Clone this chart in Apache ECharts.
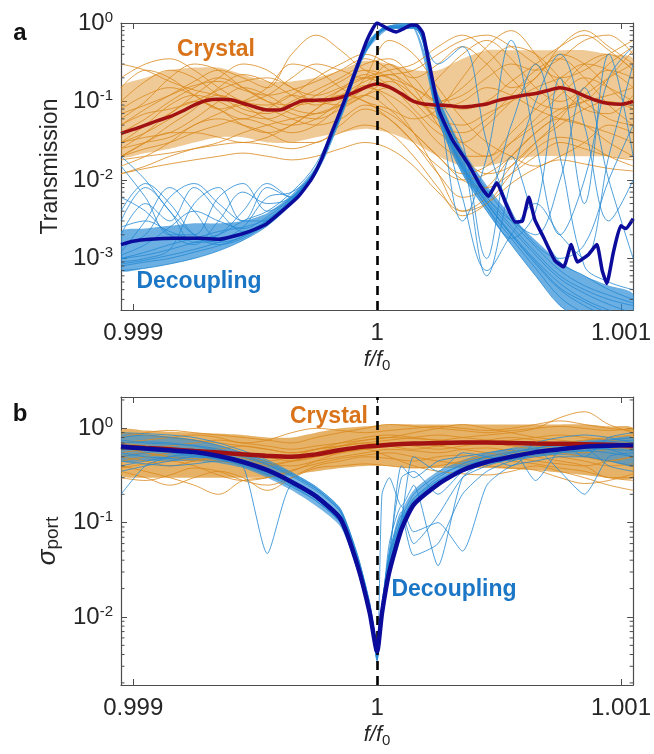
<!DOCTYPE html>
<html>
<head>
<meta charset="utf-8">
<script src="https://cdn.jsdelivr.net/npm/echarts@6/dist/echarts.min.js"></script>
<style>
  html, body { margin: 0; padding: 0; background: #fff; }
  #chart { width: 654px; height: 754px; }
</style>
</head>
<body>
<div id="chart"></div>
<script>
// ---- x grids (f/f0) ----
const xCoarse = [0.99895, 0.99905, 0.99915, 0.99925, 0.99935, 0.99945, 0.99955, 0.99965, 0.99975, 0.99985, 0.99995,
  1.00005, 1.00015, 1.00025, 1.00035, 1.00045, 1.00055, 1.00065, 1.00075, 1.00085, 1.00095, 1.00105];
const xFine = [0.99895, 0.99900, 0.99905, 0.99910, 0.99915, 0.99920, 0.99925, 0.99930, 0.99935, 0.99940,
  0.99945, 0.99950, 0.99955, 0.99960, 0.99965, 0.99970, 0.99975, 0.99980, 0.99985, 0.99990,
  0.99995, 1.00000, 1.00005, 1.00010, 1.00015, 1.00020, 1.00025, 1.00030, 1.00035, 1.00040,
  1.00045, 1.00050, 1.00055, 1.00060, 1.00065, 1.00070, 1.00075, 1.00080, 1.00085, 1.00090,
  1.00095, 1.00100, 1.00105];
const xDip = [0.99895, 0.99905, 0.99915, 0.99925, 0.99935, 0.99945, 0.99955, 0.99965, 0.99975, 0.99985, 0.99992, 0.99997,
  1.00000, 1.00002, 1.00005, 1.00010, 1.00015, 1.00025, 1.00035, 1.00045, 1.00055, 1.00065, 1.00075, 1.00085, 1.00095, 1.00105];
const xMeanDecA = [0.998950, 0.998999, 0.999069, 0.999170, 0.999270, 0.999351, 0.999407, 0.999475, 0.999543, 0.999610,
  0.999678, 0.999729, 0.999771, 0.999814, 0.999865, 0.999915, 0.999958, 1.000000, 1.000042, 1.000080,
  1.000110, 1.000141, 1.000166, 1.000188, 1.000213, 1.000254, 1.000310, 1.000374, 1.000423, 1.000457,
  1.000491, 1.000528, 1.000567, 1.000596, 1.000622, 1.000647, 1.000681, 1.000728, 1.000765, 1.000796,
  1.000821, 1.000864, 1.000901, 1.000923, 1.000942, 1.000969, 1.000999, 1.001020, 1.001050];

const xTicks = [0.999, 1, 1.001];

// ---- panel a: transmission ----
const meanCrystalA = [0.039, 0.044, 0.050, 0.057, 0.064, 0.075, 0.090, 0.103, 0.107, 0.105, 0.095, 0.085, 0.078, 0.078,
  0.090, 0.103, 0.104, 0.105, 0.112, 0.128, 0.150, 0.167, 0.152, 0.125, 0.100, 0.092, 0.090, 0.088, 0.085, 0.088,
  0.093, 0.104, 0.112, 0.120, 0.126, 0.138, 0.150, 0.138, 0.118, 0.103, 0.094, 0.092, 0.100];
const meanDecouplingA = [1.5e-3, 1.65e-3, 1.75e-3, 1.8e-3, 1.8e-3, 1.75e-3, 1.9e-3, 2.2e-3, 2.7e-3, 4.0e-3,
  6.2e-3, 0.010, 0.018, 0.040, 0.10, 0.26, 0.60, 1.0, 0.85, 0.77, 0.85, 0.94, 0.92, 0.74, 0.31, 0.077, 0.032, 0.016,
  0.0085, 0.0062, 0.0092, 0.0050, 0.0029, 0.0030, 0.0060, 0.0031, 0.0019, 9.5e-4, 7.8e-4, 1.5e-3, 9.0e-4, 1.1e-3,
  1.5e-3, 7.0e-4, 4.8e-4, 1.2e-3, 2.6e-3, 2.4e-3, 3.2e-3];

const crystalA = [
  [0.03, 0.05, 0.09, 0.12, 0.10, 0.07, 0.06, 0.08, 0.12, 0.18, 0.25, 0.20, 0.10, 0.05, 0.04, 0.06, 0.12, 0.25, 0.35, 0.20, 0.09, 0.05],
  [0.02, 0.03, 0.05, 0.08, 0.15, 0.22, 0.18, 0.12, 0.09, 0.11, 0.15, 0.12, 0.07, 0.03, 0.02, 0.02, 0.04, 0.08, 0.15, 0.30, 0.40, 0.25],
  [0.10, 0.18, 0.25, 0.20, 0.12, 0.08, 0.07, 0.10, 0.14, 0.20, 0.30, 0.35, 0.20, 0.10, 0.15, 0.30, 0.50, 0.40, 0.20, 0.10, 0.06, 0.05],
  [0.015, 0.02, 0.03, 0.05, 0.06, 0.05, 0.04, 0.03, 0.03, 0.05, 0.08, 0.06, 0.03, 0.012, 0.006, 0.008, 0.02, 0.04, 0.06, 0.05, 0.03, 0.02],
  [0.05, 0.08, 0.12, 0.18, 0.25, 0.20, 0.15, 0.40, 0.70, 0.45, 0.25, 0.20, 0.15, 0.10, 0.08, 0.10, 0.18, 0.30, 0.50, 0.70, 0.45, 0.25],
  [0.04, 0.06, 0.10, 0.15, 0.20, 0.15, 0.10, 0.07, 0.06, 0.08, 0.12, 0.18, 0.12, 0.06, 0.03, 0.02, 0.03, 0.05, 0.08, 0.10, 0.12, 0.15],
  [0.02, 0.025, 0.03, 0.04, 0.05, 0.06, 0.05, 0.04, 0.05, 0.09, 0.20, 0.60, 0.40, 0.15, 0.06, 0.03, 0.02, 0.015, 0.02, 0.03, 0.05, 0.04],
  [0.08, 0.12, 0.15, 0.12, 0.08, 0.10, 0.15, 0.30, 0.25, 0.15, 0.10, 0.08, 0.06, 0.08, 0.20, 0.50, 0.80, 0.40, 0.15, 0.08, 0.07, 0.12],
  [0.03, 0.04, 0.06, 0.09, 0.12, 0.09, 0.06, 0.05, 0.06, 0.10, 0.16, 0.10, 0.04, 0.012, 0.004, 0.006, 0.015, 0.03, 0.05, 0.08, 0.10, 0.08],
  [0.06, 0.10, 0.20, 0.30, 0.25, 0.15, 0.10, 0.09, 0.10, 0.14, 0.20, 0.25, 0.30, 0.50, 0.70, 0.45, 0.20, 0.10, 0.08, 0.10, 0.20, 0.45],
  [0.012, 0.015, 0.02, 0.025, 0.03, 0.04, 0.05, 0.06, 0.07, 0.09, 0.12, 0.08, 0.04, 0.02, 0.01, 0.008, 0.012, 0.02, 0.03, 0.025, 0.02, 0.018],
  [0.05, 0.07, 0.08, 0.10, 0.14, 0.18, 0.20, 0.15, 0.10, 0.12, 0.18, 0.22, 0.15, 0.10, 0.12, 0.20, 0.30, 0.25, 0.35, 0.60, 0.70, 0.40],
  [0.025, 0.04, 0.07, 0.10, 0.08, 0.05, 0.04, 0.05, 0.08, 0.12, 0.10, 0.06, 0.03, 0.015, 0.01, 0.012, 0.02, 0.04, 0.07, 0.12, 0.20, 0.30],
  [0.15, 0.25, 0.20, 0.12, 0.08, 0.06, 0.08, 0.12, 0.10, 0.09, 0.12, 0.15, 0.10, 0.08, 0.10, 0.15, 0.12, 0.08, 0.06, 0.05, 0.04, 0.03],
  [0.03, 0.035, 0.04, 0.06, 0.10, 0.15, 0.12, 0.08, 0.07, 0.09, 0.15, 0.30, 0.15, 0.05, 0.02, 0.012, 0.015, 0.03, 0.06, 0.15, 0.25, 0.20],
  [0.07, 0.09, 0.12, 0.16, 0.18, 0.14, 0.12, 0.14, 0.18, 0.25, 0.35, 0.25, 0.12, 0.06, 0.05, 0.07, 0.10, 0.15, 0.20, 0.30, 0.25, 0.15],
  [0.02, 0.03, 0.04, 0.04, 0.035, 0.03, 0.035, 0.05, 0.08, 0.14, 0.22, 0.16, 0.08, 0.04, 0.03, 0.05, 0.10, 0.20, 0.40, 0.30, 0.15, 0.08],
  [0.04, 0.05, 0.07, 0.12, 0.20, 0.30, 0.25, 0.15, 0.12, 0.15, 0.20, 0.15, 0.10, 0.20, 0.40, 0.60, 0.35, 0.15, 0.10, 0.15, 0.30, 0.50],
  [0.018, 0.02, 0.022, 0.025, 0.028, 0.03, 0.028, 0.025, 0.03, 0.04, 0.05, 0.04, 0.02, 0.008, 0.0035, 0.005, 0.012, 0.025, 0.035, 0.03, 0.02, 0.015],
  [0.20, 0.30, 0.35, 0.25, 0.15, 0.10, 0.09, 0.12, 0.20, 0.30, 0.40, 0.30, 0.20, 0.30, 0.50, 0.30, 0.15, 0.20, 0.50, 0.80, 0.50, 0.30],
  [0.012, 0.014, 0.016, 0.018, 0.02, 0.022, 0.02, 0.018, 0.02, 0.025, 0.03, 0.025, 0.015, 0.007, 0.004, 0.005, 0.009, 0.014, 0.018, 0.016, 0.014, 0.013],
  [0.30, 0.25, 0.18, 0.14, 0.12, 0.10, 0.12, 0.20, 0.30, 0.25, 0.20, 0.22, 0.25, 0.40, 0.60, 0.70, 0.50, 0.30, 0.20, 0.25, 0.40, 0.60],
  [0.025, 0.03, 0.035, 0.05, 0.07, 0.09, 0.08, 0.06, 0.05, 0.06, 0.09, 0.07, 0.04, 0.02, 0.012, 0.015, 0.03, 0.06, 0.12, 0.20, 0.15, 0.10]
];
const crystalBandLoA = [0.02, 0.022, 0.025, 0.03, 0.035, 0.035, 0.03, 0.03, 0.035, 0.04, 0.045, 0.04, 0.03, 0.02, 0.015, 0.015, 0.018, 0.02, 0.02, 0.02, 0.02, 0.02];
const crystalBandHiA = [0.15, 0.2, 0.25, 0.27, 0.27, 0.22, 0.18, 0.18, 0.2, 0.25, 0.33, 0.3, 0.25, 0.25, 0.35, 0.45, 0.45, 0.45, 0.45, 0.45, 0.4, 0.35];

const decouplingA = [
  [7e-4, 7.5e-4, 8.5e-4, 1e-3, 1.25e-3, 1.7e-3, 2.6e-3, 5e-3, 0.012, 0.06, 0.40, 0.85, 0.85, 0.06, 0.012, 0.004, 0.0015, 6e-4, 2.5e-4, 1.6e-4, 1.2e-4, 1e-4],
  [8e-4, 9e-4, 1e-3, 1.2e-3, 1.45e-3, 1.9e-3, 2.8e-3, 5.3e-3, 0.013, 0.065, 0.42, 0.87, 0.87, 0.07, 0.014, 0.0045, 0.0018, 7.5e-4, 3.2e-4, 2e-4, 1.5e-4, 1.2e-4],
  [1.2e-3, 3e-3, 8e-3, 4e-3, 1.8e-3, 2e-3, 3e-3, 5.6e-3, 0.013, 0.07, 0.44, 0.88, 0.89, 0.075, 0.015, 0.005, 0.002, 9e-4, 4.2e-4, 2.8e-4, 2e-4, 1.6e-4],
  [2e-3, 5e-3, 3e-3, 8e-3, 4e-3, 2.2e-3, 3.1e-3, 5.7e-3, 0.014, 0.072, 0.45, 0.9, 0.9, 0.08, 0.016, 0.0055, 0.0024, 1.1e-3, 5.5e-4, 3.6e-4, 2.6e-4, 2e-4],
  [0.015, 6e-3, 2e-3, 2e-3, 6e-3, 9e-3, 4e-3, 6e-3, 0.014, 0.075, 0.47, 0.9, 0.91, 0.09, 0.02, 0.007, 0.05, 0.3, 0.02, 8e-4, 5e-4, 4e-4],
  [3e-3, 8e-3, 4e-3, 1.6e-3, 1.7e-3, 2.5e-3, 6e-3, 7e-3, 0.013, 0.07, 0.44, 0.88, 0.88, 0.08, 0.015, 0.006, 0.003, 0.002, 0.01, 0.15, 0.01, 1e-3],
  [9e-4, 1e-3, 1.3e-3, 5e-3, 8e-3, 3e-3, 3e-3, 5.6e-3, 0.013, 0.068, 0.43, 0.87, 0.9, 0.09, 0.006, 7e-4, 0.002, 0.005, 0.002, 0.001, 0.02, 0.3],
  [0.02, 0.01, 4e-3, 2e-3, 1.6e-3, 1.9e-3, 2.9e-3, 5.5e-3, 0.013, 0.066, 0.42, 0.86, 0.88, 0.085, 0.017, 0.006, 0.0026, 1.2e-3, 6e-4, 4e-4, 3e-4, 2.5e-4],
  [1.5e-3, 2e-3, 6e-3, 9e-3, 5e-3, 3e-3, 8e-3, 6e-3, 0.013, 0.07, 0.45, 0.89, 0.91, 0.3, 0.5, 0.03, 0.004, 0.0015, 0.001, 0.0015, 0.01, 0.05],
  [1e-3, 1.1e-3, 1.3e-3, 1.6e-3, 2e-3, 4e-3, 9e-3, 6e-3, 0.014, 0.074, 0.47, 0.9, 0.93, 0.11, 0.022, 0.0075, 0.003, 1.4e-3, 7e-4, 4.5e-4, 3.4e-4, 2.7e-4],
  [4e-3, 9e-3, 5e-3, 2e-3, 1.5e-3, 1.8e-3, 2.8e-3, 5.4e-3, 0.013, 0.066, 0.42, 0.87, 0.86, 0.07, 0.013, 0.0045, 0.0018, 0.004, 0.2, 0.005, 0.4, 0.02],
  [1.1e-3, 1.5e-3, 2.5e-3, 4e-3, 3e-3, 2.4e-3, 3.4e-3, 6e-3, 0.014, 0.072, 0.46, 0.9, 0.88, 0.075, 0.014, 0.005, 0.002, 8.5e-4, 4e-4, 2.5e-4, 1.8e-4, 1.4e-4],
  [2.5e-3, 3e-3, 2.2e-3, 1.8e-3, 2e-3, 3e-3, 4e-3, 7e-3, 0.016, 0.08, 0.5, 0.92, 0.95, 0.12, 0.03, 1e-3, 0.02, 0.003, 9e-4, 6e-4, 4e-4, 3e-4],
  [8.5e-4, 9.5e-4, 1.1e-3, 1.3e-3, 1.6e-3, 2.1e-3, 3e-3, 5.5e-3, 0.013, 0.067, 0.43, 0.88, 0.89, 0.082, 0.015, 0.0052, 0.0021, 9.5e-4, 4.8e-4, 3e-4, 2.2e-4, 1.7e-4],
  [1e-3, 1.2e-3, 1.5e-3, 1.8e-3, 2.2e-3, 2.5e-3, 3.2e-3, 5.8e-3, 0.014, 0.07, 0.45, 0.9, 0.9, 0.1, 0.02, 6e-4, 0.01, 0.1, 0.4, 0.05, 0.003, 0.01],
  [6e-3, 4e-3, 2e-3, 1.5e-3, 3e-3, 7e-3, 5e-3, 6e-3, 0.014, 0.07, 0.44, 0.88, 0.9, 0.09, 0.003, 0.02, 0.6, 0.03, 0.002, 0.01, 0.2, 0.5]
];
const decBandLoA = [7e-4, 7.5e-4, 8.5e-4, 1e-3, 1.25e-3, 1.7e-3, 2.6e-3, 5e-3, 0.012, 0.06, 0.4, 0.85, 0.85, 0.06, 0.012, 0.004, 0.0015, 6e-4, 2.5e-4, 1.6e-4, 1.2e-4, 1e-4];
const decBandHiA = [2.2e-3, 2.4e-3, 2.6e-3, 2.8e-3, 2.8e-3, 3e-3, 3.8e-3, 6.5e-3, 0.015, 0.075, 0.48, 0.92, 0.93, 0.12, 0.025, 0.0085, 0.0035, 1.7e-3, 9e-4, 6e-4, 4.5e-4, 3.5e-4];

// ---- panel b: sigma_port ----
const meanCrystalB = [0.64, 0.62, 0.60, 0.575, 0.555, 0.53, 0.51, 0.50, 0.53, 0.59, 0.64, 0.67, 0.69, 0.70, 0.71, 0.71, 0.70, 0.69, 0.685, 0.68, 0.67, 0.655];
const meanDecouplingB = [0.64, 0.61, 0.585, 0.56, 0.51, 0.44, 0.36, 0.27, 0.19, 0.11, 0.035, 0.011, 0.0043, 0.011, 0.03, 0.085, 0.155, 0.255, 0.36, 0.44, 0.5, 0.56, 0.6, 0.64, 0.655, 0.665];

const crystalB = [
  [0.7, 0.75, 0.8, 0.85, 0.8, 0.7, 0.75, 0.9, 1.0, 0.95, 0.9, 0.95, 1.0, 1.05, 1.0, 0.95, 1.0, 1.1, 1.2, 1.1, 1.0, 0.95],
  [0.5, 0.45, 0.4, 0.45, 0.5, 0.48, 0.42, 0.4, 0.45, 0.5, 0.55, 0.6, 0.58, 0.55, 0.6, 0.62, 0.58, 0.55, 0.5, 0.45, 0.4, 0.42],
  [0.35, 0.3, 0.25, 0.3, 0.35, 0.3, 0.22, 0.3, 0.4, 0.45, 0.5, 0.48, 0.45, 0.5, 0.52, 0.48, 0.45, 0.42, 0.38, 0.35, 0.3, 0.28],
  [0.6, 0.65, 0.6, 0.55, 0.6, 0.65, 0.6, 0.55, 0.6, 0.7, 0.8, 0.85, 0.8, 0.75, 0.8, 0.85, 0.9, 1.0, 1.3, 1.5, 1.1, 0.9],
  [0.45, 0.5, 0.55, 0.6, 0.55, 0.5, 0.45, 0.5, 0.6, 0.65, 0.7, 0.75, 0.8, 0.85, 0.8, 0.75, 0.7, 0.65, 0.6, 0.55, 0.6, 0.65],
  [0.9, 0.85, 0.8, 0.75, 0.7, 0.65, 0.6, 0.55, 0.6, 0.65, 0.7, 0.65, 0.6, 0.65, 0.7, 0.75, 0.8, 0.75, 0.7, 0.75, 0.8, 0.85],
  [0.4, 0.35, 0.3, 0.25, 0.2, 0.28, 0.3, 0.35, 0.45, 0.55, 0.6, 0.5, 0.4, 0.35, 0.33, 0.32, 0.35, 0.4, 0.35, 0.3, 0.25, 0.22],
  [0.55, 0.6, 0.65, 0.7, 0.75, 0.7, 0.65, 0.6, 0.65, 0.7, 0.75, 0.8, 0.9, 1.0, 1.1, 1.0, 0.9, 0.8, 0.75, 0.7, 0.65, 0.6],
  [0.3, 0.28, 0.32, 0.38, 0.35, 0.28, 0.25, 0.3, 0.38, 0.4, 0.42, 0.4, 0.38, 0.4, 0.45, 0.5, 0.55, 0.5, 0.45, 0.4, 0.3, 0.3],
  [0.8, 0.9, 0.95, 0.9, 0.85, 0.8, 0.75, 0.7, 0.8, 0.9, 1.0, 1.1, 1.05, 1.0, 0.95, 0.9, 0.95, 1.0, 1.05, 1.0, 0.95, 1.0],
  [0.65, 0.55, 0.5, 0.48, 0.45, 0.42, 0.4, 0.45, 0.5, 0.55, 0.6, 0.65, 0.7, 0.65, 0.6, 0.55, 0.5, 0.45, 0.42, 0.4, 0.45, 0.5],
  [0.5, 0.55, 0.5, 0.45, 0.5, 0.55, 0.5, 0.45, 0.5, 0.6, 0.65, 0.7, 0.65, 0.6, 0.65, 0.7, 0.65, 0.6, 0.55, 0.5, 0.45, 0.5],
  [0.7, 0.65, 0.6, 0.55, 0.5, 0.45, 0.42, 0.45, 0.55, 0.65, 0.75, 0.8, 0.78, 0.75, 0.7, 0.72, 0.75, 0.8, 0.85, 0.8, 0.75, 0.7],
  [0.38, 0.42, 0.45, 0.4, 0.32, 0.28, 0.3, 0.36, 0.42, 0.48, 0.52, 0.55, 0.5, 0.45, 0.42, 0.4, 0.38, 0.36, 0.3, 0.26, 0.28, 0.33]
];
const crystalBandLoB = [0.32, 0.3, 0.3, 0.3, 0.3, 0.3, 0.3, 0.32, 0.35, 0.38, 0.4, 0.4, 0.38, 0.38, 0.38, 0.38, 0.37, 0.36, 0.34, 0.32, 0.3, 0.3];
const crystalBandHiB = [0.95, 0.95, 0.92, 0.9, 0.88, 0.85, 0.8, 0.8, 0.9, 1.0, 1.05, 1.1, 1.1, 1.1, 1.1, 1.1, 1.1, 1.1, 1.1, 1.1, 1.05, 1.0];

const decouplingB = [
  [0.7, 0.72, 0.7, 0.65, 0.58, 0.5, 0.41, 0.31, 0.22, 0.13, 0.042, 0.013, 0.0035, 0.012, 0.035, 0.1, 0.18, 0.3, 0.42, 0.5, 0.56, 0.62, 0.66, 0.7, 0.72, 0.75],
  [0.55, 0.5, 0.48, 0.5, 0.48, 0.41, 0.33, 0.25, 0.17, 0.1, 0.032, 0.01, 0.0045, 0.012, 0.04, 0.11, 0.2, 0.32, 0.4, 0.46, 0.52, 0.57, 0.6, 0.62, 0.6, 0.58],
  [0.8, 0.85, 0.8, 0.75, 0.66, 0.55, 0.44, 0.33, 0.23, 0.135, 0.045, 0.014, 0.005, 0.014, 0.05, 0.3, 0.35, 0.2, 0.35, 0.5, 0.45, 0.7, 0.8, 0.85, 0.8, 0.7],
  [0.45, 0.42, 0.4, 0.42, 0.45, 0.4, 0.047, 0.25, 0.18, 0.1, 0.033, 0.011, 0.004, 0.011, 0.06, 0.15, 0.08, 0.1, 0.05, 0.25, 0.4, 0.45, 0.5, 0.5, 0.45, 0.4],
  [0.6, 0.62, 0.6, 0.58, 0.53, 0.46, 0.37, 0.28, 0.2, 0.115, 0.037, 0.0115, 0.0033, 0.2, 0.3, 0.15, 0.25, 0.035, 0.3, 0.45, 0.55, 0.6, 0.35, 0.2, 0.5, 0.55],
  [0.35, 0.4, 0.45, 0.5, 0.47, 0.4, 0.32, 0.24, 0.17, 0.1, 0.032, 0.01, 0.004, 0.01, 0.045, 0.13, 0.06, 0.12, 0.3, 0.4, 0.48, 0.55, 0.6, 0.65, 0.6, 0.5],
  [0.9, 0.88, 0.85, 0.8, 0.7, 0.58, 0.46, 0.34, 0.24, 0.14, 0.045, 0.014, 0.005, 0.013, 0.04, 0.4, 0.3, 0.45, 0.5, 0.55, 0.6, 0.28, 0.6, 0.7, 0.75, 0.8],
  [0.5, 0.55, 0.6, 0.6, 0.54, 0.46, 0.37, 0.28, 0.2, 0.115, 0.036, 0.011, 0.0038, 0.011, 0.038, 0.095, 0.17, 0.28, 0.38, 0.46, 0.52, 0.57, 0.6, 0.62, 0.4, 0.35],
  [0.2, 0.4, 0.5, 0.55, 0.5, 0.44, 0.35, 0.26, 0.185, 0.105, 0.034, 0.0105, 0.0042, 0.012, 0.042, 0.12, 0.045, 0.06, 0.2, 0.35, 0.45, 0.5, 0.55, 0.58, 0.62, 0.65],
  [0.65, 0.6, 0.55, 0.52, 0.48, 0.42, 0.34, 0.26, 0.18, 0.105, 0.033, 0.0105, 0.0036, 0.01, 0.033, 0.09, 0.16, 0.26, 0.36, 0.44, 0.5, 0.56, 0.6, 0.63, 0.64, 0.65],
  [0.75, 0.7, 0.68, 0.66, 0.6, 0.52, 0.42, 0.32, 0.23, 0.13, 0.042, 0.013, 0.0045, 0.013, 0.045, 0.11, 0.5, 0.35, 0.55, 0.5, 0.4, 0.6, 0.7, 0.5, 0.8, 0.9],
  [0.4, 0.45, 0.5, 0.52, 0.49, 0.43, 0.35, 0.26, 0.18, 0.1, 0.032, 0.01, 0.0038, 0.01, 0.034, 0.1, 0.18, 0.28, 0.35, 0.42, 0.47, 0.52, 0.56, 0.58, 0.55, 0.5]
];
const decBandLoB = [0.45, 0.45, 0.45, 0.45, 0.43, 0.38, 0.3, 0.22, 0.15, 0.09, 0.03, 0.0095, 0.0035, 0.0095, 0.03, 0.085, 0.155, 0.255, 0.34, 0.41, 0.46, 0.5, 0.52, 0.5, 0.45, 0.4];
const decBandHiB = [0.85, 0.85, 0.82, 0.76, 0.66, 0.55, 0.45, 0.34, 0.24, 0.14, 0.045, 0.014, 0.005, 0.014, 0.05, 0.13, 0.22, 0.35, 0.46, 0.55, 0.62, 0.68, 0.72, 0.75, 0.78, 0.8];

// ---- look ----
const FONT = '"Liberation Sans", Arial, sans-serif';
const AXIS = '#4d4d4d';
const TXT = '#262626';
const ORANGE = '#DA8A1E';
const BLUE = '#2589D4';
const RED = '#A31212';
const NAVY = '#0B0B9C';
const X_MIN = 0.99895, X_MAX = 1.00105;
const Y_RANGE = [[2.2e-4, 1], [1.9e-3, 2.15]];

const chart = echarts.init(document.getElementById('chart'), null, { renderer: 'canvas' });

function pairs(xs, ys) { return xs.map((x, i) => [x, ys[i]]); }

function pow10Label(v) {
  const e = Math.log10(v), r = Math.round(e);
  if (Math.abs(e - r) > 1e-6) return '';
  return '{b|10}{s|' + r + '}';
}

const supRich = {
  b: { fontSize: 24, fontFamily: FONT, color: TXT, lineHeight: 26 },
  s: { fontSize: 15, fontFamily: FONT, color: TXT, lineHeight: 12, verticalAlign: 'top' }
};

function xAxes(gi) {
  const base = {
    gridIndex: gi, type: 'value', min: X_MIN, max: X_MAX,
    axisLine: { show: true, onZero: false, lineStyle: { color: AXIS, width: 1.2 } },
    axisTick: { show: true, inside: true, length: 6, customValues: xTicks, lineStyle: { color: AXIS } },
    splitLine: { show: false }
  };
  return [
    Object.assign({}, base, {
      position: 'bottom',
      axisLabel: { show: true, customValues: xTicks, margin: 11, fontSize: 24, fontFamily: FONT, color: TXT,
        formatter: v => String(+(+v).toFixed(3)) },
      name: '{i|f/f}{s|0}', nameLocation: 'middle', nameGap: 37,
      nameTextStyle: { rich: {
        i: { fontSize: 22, fontStyle: 'italic', fontFamily: FONT, color: TXT, lineHeight: 26 },
        s: { fontSize: 15, fontFamily: FONT, color: TXT, lineHeight: 12, verticalAlign: 'bottom' }
      } }
    }),
    Object.assign({}, base, { position: 'top', axisLabel: { show: false } })
  ];
}

function yAxes(gi, name, nameRich, gap) {
  const base = {
    gridIndex: gi, type: 'log', logBase: 10, min: Y_RANGE[gi][0], max: Y_RANGE[gi][1],
    axisLine: { show: true, onZero: false, lineStyle: { color: AXIS, width: 1.2 } },
    axisTick: { show: true, inside: true, length: 6, lineStyle: { color: AXIS } },
    splitLine: { show: false }, minorTick: { show: false }
  };
  return [
    Object.assign({}, base, {
      position: 'left',
      axisLabel: { show: true, margin: 8, formatter: pow10Label, rich: supRich, showMinLabel: false },
      name: name, nameLocation: 'middle', nameGap: gap,
      nameTextStyle: nameRich
    }),
    Object.assign({}, base, { position: 'right', axisLabel: { show: false } })
  ];
}

function minorTicks(ai, lo, hi) {
  const vals = [];
  for (let e = -5; e <= 1; e++) {
    for (let m = 2; m <= 9; m++) {
      const v = m * Math.pow(10, e);
      if (v > lo && v < hi) vals.push(v);
    }
  }
  return {
    type: 'custom', xAxisIndex: ai, yAxisIndex: ai, silent: true, z: 6, animation: false,
    data: [[1, vals[0]]],
    renderItem: (params, api) => {
      const cs = params.coordSys;
      const children = [];
      vals.forEach(v => {
        const y = api.coord([1, v])[1];
        children.push({ type: 'line', shape: { x1: cs.x, y1: y, x2: cs.x + 3.5, y2: y }, style: { stroke: AXIS, lineWidth: 1 } });
        children.push({ type: 'line', shape: { x1: cs.x + cs.width - 3.5, y1: y, x2: cs.x + cs.width, y2: y }, style: { stroke: AXIS, lineWidth: 1 } });
      });
      return { type: 'group', children };
    }
  };
}

function band(ai, xs, lo, hi, color, op) {
  return {
    type: 'custom', xAxisIndex: ai, yAxisIndex: ai, silent: true, z: 1, clip: true, animation: false,
    data: [[xs[0], hi[0]]],
    renderItem: (params, api) => {
      const top = xs.map((x, i) => api.coord([x, hi[i]]));
      const bot = xs.map((x, i) => api.coord([x, lo[i]])).reverse();
      return { type: 'polygon', shape: { points: top.concat(bot), smooth: 0.25 }, style: { fill: color, opacity: op } };
    }
  };
}

function line(ai, xs, ys, color, width, opts) {
  return Object.assign({
    type: 'line', xAxisIndex: ai, yAxisIndex: ai, data: pairs(xs, ys),
    showSymbol: false, symbol: 'none', smooth: 0.35, silent: true, animation: false, z: 2,
    lineStyle: { color: color, width: width }
  }, opts || {});
}

function dashed(ai) {
  return {
    type: 'line', xAxisIndex: ai, yAxisIndex: ai, data: [[1, Y_RANGE[ai / 2][1]]], symbol: 'none', silent: true,
    animation: false, z: 3, lineStyle: { opacity: 0 },
    markLine: { silent: true, symbol: ['none', 'none'], label: { show: false }, animation: false,
      lineStyle: { color: '#000', width: 2.6, type: [9, 6] }, data: [{ xAxis: 1 }] }
  };
}

const thinStyle = c => ({ lineStyle: { color: c, width: 0.9, opacity: 0.9 } });

const series = [];
// panel a
series.push(band(0, xCoarse, crystalBandLoA, crystalBandHiA, '#DF962E', 0.5));
crystalA.forEach(ys => series.push(line(0, xCoarse, ys, ORANGE, 0.9, thinStyle(ORANGE))));
series.push(band(0, xCoarse, decBandLoA, decBandHiA, '#2E8DD6', 0.7));
decouplingA.forEach(ys => series.push(line(0, xCoarse, ys, BLUE, 0.9, thinStyle(BLUE))));
series.push(dashed(0));
series.push(line(0, xFine, meanCrystalA, RED, 3.5, { z: 4 }));
series.push(line(0, xMeanDecA, meanDecouplingA, NAVY, 3.5, { z: 5, smooth: 0.15 }));
series.push(minorTicks(0, Y_RANGE[0][0], Y_RANGE[0][1]));
// panel b
series.push(band(2, xCoarse, crystalBandLoB, crystalBandHiB, '#DC9126', 0.7));
crystalB.forEach(ys => series.push(line(2, xCoarse, ys, ORANGE, 0.9, thinStyle(ORANGE))));
series.push(band(2, xDip, decBandLoB, decBandHiB, '#2E8DD6', 0.65));
decouplingB.forEach(ys => series.push(line(2, xDip, ys, BLUE, 0.9, Object.assign({ smooth: 0.2 }, thinStyle(BLUE)))));
series.push(dashed(2));
series.push(line(2, xCoarse, meanCrystalB, RED, 4.5, { z: 4 }));
series.push(line(2, xDip, meanDecouplingB, NAVY, 4.5, { z: 5, smooth: 0.2 }));
series.push(minorTicks(2, Y_RANGE[1][0], Y_RANGE[1][1]));

const label = (text, x, y, color, size) => ({
  type: 'text', x: x, y: y, silent: true, z: 100,
  style: { text: text, fill: color, font: 'bold ' + size + 'px ' + FONT, align: 'center', verticalAlign: 'middle' }
});

const option = {
  backgroundColor: '#fff',
  animation: false,
  grid: [
    { left: 121, top: 23, width: 519, height: 287 },
    { left: 121, top: 397, width: 519, height: 288 }
  ],
  xAxis: xAxes(0).concat(xAxes(1)),
  yAxis: yAxes(0, 'Transmission', { fontSize: 23, fontFamily: FONT, color: TXT }, 58)
    .concat(yAxes(1, '{i|σ}{s|port}', { rich: {
      i: { fontSize: 26, fontStyle: 'italic', fontFamily: FONT, color: TXT, lineHeight: 28 },
      s: { fontSize: 19, fontFamily: FONT, color: TXT, lineHeight: 14, verticalAlign: 'bottom' }
    } }, 58)),
  series: series,
  graphic: [
    label('a', 20, 33, '#111', 24),
    label('b', 20, 414, '#111', 24),
    label('Crystal', 216, 50, '#D9731A', 23),
    label('Decoupling', 199, 282, '#1C76C6', 23),
    label('Crystal', 329, 417, '#D9731A', 23),
    label('Decoupling', 454, 590, '#1C76C6', 23)
  ]
};

chart.setOption(option);
window.addEventListener('resize', () => chart.resize());
</script>
</body>
</html>
